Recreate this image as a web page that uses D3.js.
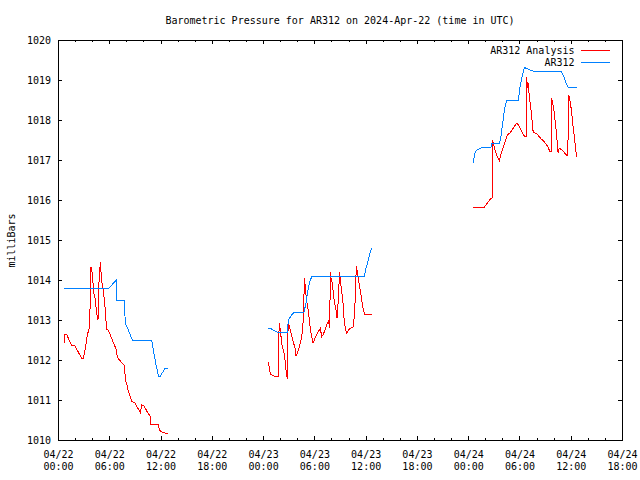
<!DOCTYPE html>
<html>
<head>
<meta charset="utf-8">
<script src="https://cdn.jsdelivr.net/npm/d3@7"></script>
<style>
  html, body { margin: 0; padding: 0; background: #fff; }
  svg { display: block; }
  text { font-family: "DejaVu Sans Mono", "Liberation Mono", monospace; font-size: 10px; fill: #000; }
</style>
</head>
<body>
<svg id="chart" width="640" height="480"></svg>
<script>
// ---- data (hours since 2024-04-22 00:00 UTC; null = gap) ----
const analysisHours = [
  0.70,0.78,1.01,1.60,1.99,2.77,2.96,3.24,3.43,3.63,3.74,3.86,3.98,4.06,4.18,4.29,4.49,4.60,4.68,4.76,
  4.88,4.95,5.07,5.15,5.34,5.46,5.58,5.66,5.89,6.12,6.36,6.59,6.83,6.94,7.18,7.45,7.65,7.80,7.88,8.04,
  8.19,8.43,8.66,9.01,9.25,9.52,9.64,9.79,10.03,10.26,10.49,10.77,10.85,11.74,11.86,12.05,12.33,12.56,12.83,
  null,
  24.61,24.85,25.20,25.51,25.75,25.78,25.90,26.02,26.14,26.25,26.45,26.60,26.72,26.84,26.87,26.99,27.19,
  27.38,27.58,27.74,27.85,28.01,28.24,28.44,28.63,28.75,28.83,28.94,29.06,29.22,29.37,29.53,29.69,29.84,
  30.00,30.23,30.47,30.70,30.86,31.01,31.25,31.44,31.67,31.79,31.87,31.98,32.10,32.26,32.41,32.57,32.65,
  32.73,32.84,32.92,33.04,33.20,33.35,33.51,33.67,33.78,33.98,34.21,34.56,34.72,34.83,34.91,35.03,35.15,
  35.26,35.42,35.57,35.73,35.89,36.16,36.43,36.71,
  null,
  48.61,49.89,50.24,50.56,50.79,50.83,50.95,51.14,51.42,51.65,51.88,52.19,52.50,52.70,52.90,53.13,53.37,
  53.60,53.75,53.99,54.22,54.46,54.65,54.78,54.81,54.92,54.99,55.16,55.31,55.47,55.59,55.70,56.01,56.33,
  56.56,56.80,57.11,57.34,57.58,57.70,57.77,57.89,58.05,58.21,58.36,58.52,58.64,58.87,59.15,59.46,59.65,
  59.77,59.89,60.08,60.23,60.43,60.59,60.71
];
const analysisValues = [
  1012.42,1012.64,1012.64,1012.36,1012.35,1012.04,1012.04,1012.33,1012.63,1012.77,1013.21,1014.33,1014.21,
  1014.04,1013.67,1013.63,1013.25,1013.08,1013.00,1013.83,1014.18,1014.46,1014.08,1013.92,1013.67,1013.42,
  1013.17,1012.77,1012.75,1012.63,1012.50,1012.38,1012.25,1012.07,1012.00,1011.94,1011.88,1011.86,1011.48,
  1011.42,1011.25,1011.10,1010.96,1010.93,1010.83,1010.73,1010.68,1010.88,1010.86,1010.78,1010.68,1010.60,
  1010.39,1010.39,1010.25,1010.21,1010.19,1010.17,1010.17,
  null,
  1011.94,1011.65,1011.61,1011.58,1011.58,1012.25,1012.92,1012.75,1012.50,1012.33,1012.17,1011.96,1011.67,
  1011.53,1012.58,1012.92,1012.75,1012.58,1012.42,1012.29,1012.11,1012.17,1012.33,1012.50,1012.75,1013.25,
  1014.04,1013.83,1013.54,1013.33,1013.08,1012.79,1012.58,1012.42,1012.50,1012.63,1012.71,1012.79,1012.58,
  1012.63,1012.75,1012.88,1012.98,1012.79,1014.21,1014.00,1013.92,1013.58,1013.38,1013.21,1013.04,1013.33,
  1013.50,1014.21,1014.00,1013.71,1013.42,1012.92,1012.75,1012.67,1012.75,1012.79,1012.83,1013.21,1013.83,
  1014.35,1014.21,1014.00,1013.88,1013.67,1013.46,1013.25,1013.13,1013.13,1013.15,1013.14,
  null,
  1015.82,1015.82,1015.92,1016.02,1016.05,1017.50,1017.42,1017.25,1017.08,1016.98,1017.17,1017.38,1017.58,
  1017.65,1017.67,1017.75,1017.83,1017.90,1017.92,1017.83,1017.73,1017.63,1017.58,1017.58,1019.07,1018.79,
  1018.96,1018.58,1018.33,1018.00,1017.73,1017.68,1017.67,1017.58,1017.52,1017.48,1017.40,1017.32,1017.21,
  1017.21,1018.54,1018.42,1018.21,1017.92,1017.58,1017.18,1017.29,1017.27,1017.21,1017.13,1017.10,1018.63,
  1018.50,1018.25,1017.92,1017.58,1017.25,1017.07
];
const ar312Hours = [
  0.70,5.89,6.87,6.90,7.76,7.88,8.07,8.70,10.96,11.16,11.47,11.59,11.74,11.98,12.52,12.83,
  null,
  24.61,24.93,25.32,25.71,26.84,26.92,27.03,27.35,27.66,28.79,29.02,29.22,29.41,29.61,29.72,35.85,36.04,
  36.32,36.51,36.71,
  null,
  48.61,48.73,48.92,49.31,49.70,50.67,50.79,51.65,51.80,52.04,52.27,52.50,53.87,54.07,54.30,54.57,54.85,
  55.24,55.63,58.87,59.22,59.53,59.68,60.77
];
const ar312Values = [
  1013.79,1013.79,1014.00,1013.49,1013.49,1012.90,1012.83,1012.50,1012.50,1012.25,1011.88,1011.78,1011.60,
  1011.60,1011.79,1011.80,
  null,
  1012.79,1012.78,1012.73,1012.69,1012.69,1012.92,1013.02,1013.13,1013.20,1013.20,1013.42,1013.71,1013.92,
  1014.04,1014.10,1014.10,1014.29,1014.50,1014.68,1014.79,
  null,
  1016.92,1017.13,1017.23,1017.28,1017.32,1017.32,1017.42,1017.42,1017.54,1017.92,1018.29,1018.50,1018.50,
  1018.83,1019.08,1019.31,1019.29,1019.25,1019.22,1019.22,1019.07,1018.88,1018.82,1018.82
];
const seriesNames = ["AR312 Analysis", "AR312"];
const seriesColors = ["#ff0000", "#0080ff"];
const yTicks = [1010,1011,1012,1013,1014,1015,1016,1017,1018,1019,1020];
const titleText = "Barometric Pressure for AR312 on 2024-Apr-22 (time in UTC)";
const yLabel = "milliBars";
const timeStart = Date.UTC(2024, 3, 22, 0, 0);
const timeEnd = Date.UTC(2024, 3, 24, 18, 0);

// ---- layout ----
const L = 58, R = 622, T = 40, B = 440;
const svg = d3.select("#chart");

const x = d3.scaleUtc().domain([new Date(timeStart), new Date(timeEnd)]).range([L, R]);
const y = d3.scaleLinear().domain([1010, 1020]).range([B, T]);

const majorTicks = d3.utcHour.every(6).range(new Date(timeStart), new Date(timeEnd + 1));
const minorTicks = d3.utcHour.every(2).range(new Date(timeStart), new Date(timeEnd + 1))
  .filter(d => d.getUTCHours() % 6 !== 0);

function cleanAxis(g) { g.select(".domain").remove(); g.selectAll("line").attr("stroke", "#000").attr("shape-rendering", "crispEdges"); }

// bottom major + labels
const fmtDate = d3.utcFormat("%m/%d"), fmtTime = d3.utcFormat("%H:%M");
const gxb = svg.append("g").attr("transform", `translate(0,${B})`)
  .call(d3.axisBottom(x).tickValues(majorTicks).tickSize(-4).tickFormat(""));
cleanAxis(gxb);
gxb.selectAll(".tick text").remove();
gxb.selectAll(".tick").append("text")
  .attr("text-anchor", "middle")
  .each(function(d) {
    const t = d3.select(this);
    t.append("tspan").attr("x", 0).attr("y", 17.5).text(fmtDate(d));
    t.append("tspan").attr("x", 0).attr("y", 29.5).text(fmtTime(d));
  });
const gxbm = svg.append("g").attr("transform", `translate(0,${B})`)
  .call(d3.axisBottom(x).tickValues(minorTicks).tickSize(-2).tickFormat(""));
cleanAxis(gxbm);
// top mirrored
const gxt = svg.append("g").attr("transform", `translate(0,${T})`)
  .call(d3.axisTop(x).tickValues(majorTicks).tickSize(-4).tickFormat(""));
cleanAxis(gxt);
const gxtm = svg.append("g").attr("transform", `translate(0,${T})`)
  .call(d3.axisTop(x).tickValues(minorTicks).tickSize(-2).tickFormat(""));
cleanAxis(gxtm);
// left
const gyl = svg.append("g").attr("transform", `translate(${L},0)`)
  .call(d3.axisLeft(y).tickValues(yTicks).tickSize(-4).tickPadding(7).tickFormat(d3.format("d")));
cleanAxis(gyl);
gyl.selectAll(".tick text").attr("fill", "#000").style("font-size", "10px").style("font-family", null);
gyl.attr("font-family", null).attr("font-size", null);
gxb.attr("font-family", null).attr("font-size", null);
// right
const gyr = svg.append("g").attr("transform", `translate(${R},0)`)
  .call(d3.axisRight(y).tickValues(yTicks).tickSize(-4).tickFormat(""));
cleanAxis(gyr);

// frame
svg.append("rect").attr("x", L).attr("y", T).attr("width", R - L).attr("height", B - T)
  .attr("fill", "none").attr("stroke", "#000").attr("shape-rendering", "crispEdges");

// title & axis label
svg.append("text").attr("x", 340).attr("y", 24).attr("text-anchor", "middle").text(titleText);
svg.append("text").attr("transform", "translate(15,240.5) rotate(-90)").attr("text-anchor", "middle").text(yLabel);

// series
function toPoints(hours, vals) {
  return hours.map((h, i) => ({ t: h == null ? null : new Date(timeStart + h * 3600e3), v: vals[i] }));
}
const series = [toPoints(analysisHours, analysisValues), toPoints(ar312Hours, ar312Values)];
const line = d3.line().defined(d => d.v != null && d.t != null).x(d => x(d.t)).y(d => y(d.v));
series.forEach((pts, i) => {
  svg.append("path").datum(pts).attr("d", line)
    .attr("fill", "none").attr("stroke", seriesColors[i]).attr("stroke-width", 1)
    .attr("shape-rendering", "crispEdges");
});

// legend
const legendY = [50, 62.5];
seriesNames.forEach((name, i) => {
  svg.append("text").attr("x", 574.5).attr("y", legendY[i] + 3.5).attr("text-anchor", "end").text(name);
  svg.append("line").attr("x1", 581).attr("x2", 610).attr("y1", legendY[i]).attr("y2", legendY[i])
    .attr("stroke", seriesColors[i]).attr("shape-rendering", "crispEdges");
});
</script>
</body>
</html>
